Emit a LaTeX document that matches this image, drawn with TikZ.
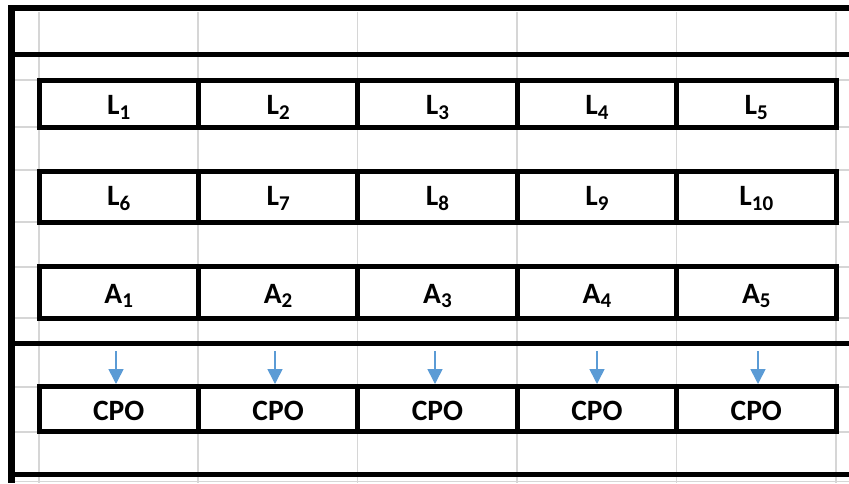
\documentclass[tikz,border=0pt]{standalone}
\usepackage{fontspec}
\setmainfont{Carlito}
\usetikzlibrary{arrows.meta}
\definecolor{gridgray}{HTML}{D6D6D6}
\definecolor{arrowblue}{HTML}{5B9BD5}
\newcommand{\lbl}[2]{#1\raisebox{-4.5pt}{\fontsize{21}{21}\selectfont #2}}
\begin{document}
\begin{tikzpicture}[x=1pt,y=-1pt,
  gridline/.style={draw=gridgray,line width=1.4pt},
  heavy/.style={draw=black,line width=5pt},
  cellbox/.style={draw=black,line width=5pt,rectangle,inner sep=0pt,minimum width=159.4pt},
  txt/.style={font=\fontsize{29.5}{31}\selectfont\bfseries,anchor=base,inner sep=0pt},
  arr/.style={draw=arrowblue,line width=1.6pt,-{Triangle[width=15pt,length=15pt]}}
]
\useasboundingbox (0,0) rectangle (849,483);
\fill[white] (0,0) rectangle (849,483);

% light spreadsheet grid
\foreach \x in {39,198,357.5,517,676.5,836}
  \draw[gridline] (\x,12) -- (\x,483);
\foreach \y in {80,127,170,222,267,318,387,432,481.5}
  \draw[gridline] (15,\y) -- (849,\y);

% heavy borders
\draw[heavy,line width=6pt] (8,8) -- (849,8);
\draw[heavy,line width=7pt] (11.5,5) -- (11.5,483);
\draw[heavy] (15,54.5) -- (849,54.5);
\draw[heavy] (15,343.5) -- (849,343.5);
\draw[heavy] (15,474.5) -- (849,474.5);

% row 1: L1..L5
\foreach \i [count=\k from 0] in {1,...,5}{
  \node[cellbox,minimum height=47pt] (L\i) at (118.7+159.4*\k,103.5) {};
  \node[txt] (tL\i) at (118.7+159.4*\k,114.5) {\lbl{L}{\i}};
}
% row 2: L6..L10
\foreach \i [count=\k from 0] in {6,...,10}{
  \node[cellbox,minimum height=51.5pt] (L\i) at (118.7+159.4*\k,196.75) {};
  \node[txt] (tL\i) at (118.7+159.4*\k,205.5) {\lbl{L}{\i}};
}
% row 3: A1..A5
\foreach \i [count=\k from 0] in {1,...,5}{
  \node[cellbox,minimum height=52pt] (A\i) at (118.7+159.4*\k,292.5) {};
  \node[txt] (tA\i) at (118.7+159.4*\k,303) {\lbl{A}{\i}};
}
% row 4: CPO
\foreach \i [count=\k from 0] in {1,...,5}{
  \node[cellbox,minimum height=45pt] (C\i) at (118.7+159.4*\k,409) {};
  \node[txt] (tC\i) at (118.7+159.4*\k,420) {CPO};
}

% blue arrows
\foreach \i/\x in {1/116,2/275,3/435,4/597,5/758}{
  \coordinate (s\i) at (\x,351);
  \draw[arr] (s\i) -- (s\i |- C\i.north);
}
\end{tikzpicture}
\end{document}
